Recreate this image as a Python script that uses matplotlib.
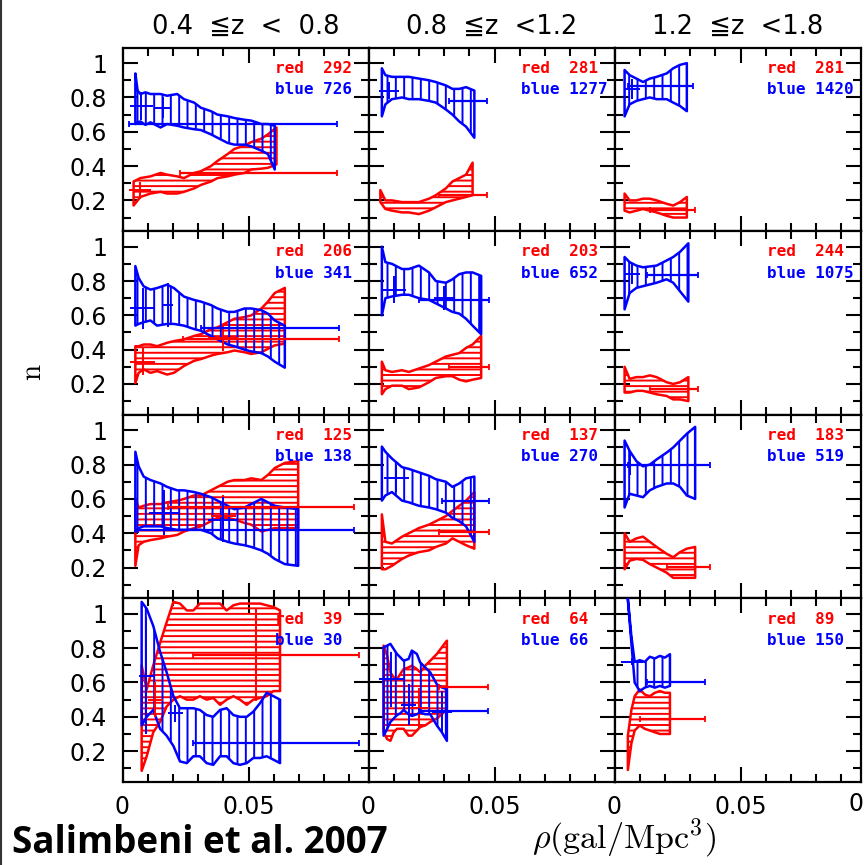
import matplotlib
matplotlib.use('Agg')
import matplotlib.pyplot as plt
from matplotlib.ticker import MultipleLocator, FixedLocator, FixedFormatter
from matplotlib.lines import Line2D

# ---------------- labels / counts ----------------
col_titles = ["0.4  \u2266z  <  0.8", "0.8  \u2266z  <1.2", "1.2  \u2266z  <1.8"]
red_counts = [[292, 281, 281], [206, 203, 244], [125, 137, 183], [39, 64, 89]]
blue_counts = [[726, 1277, 1420], [341, 652, 1075], [138, 270, 519], [30, 66, 150]]
x_ticks = [0.0, 0.05]
x_tick_labels = ["0", "0.05"]
y_ticks = [0.2, 0.4, 0.6, 0.8, 1.0]
y_tick_labels = ["0.2", "0.4", "0.6", "0.8", "1"]

# ---------------- row 0 ----------------
r0c0_blue_x = [0.0051, 0.0060, 0.0071, 0.0091, 0.0111, 0.0151, 0.0177, 0.0217, 0.0244, 0.0284,
               0.0311, 0.0351, 0.0377, 0.0417, 0.0444, 0.0484, 0.0511, 0.0551, 0.0577, 0.0604]
r0c0_blue_hi = [0.94, 0.84, 0.82, 0.83, 0.82, 0.82, 0.81, 0.82, 0.79, 0.77,
                0.74, 0.72, 0.70, 0.69, 0.68, 0.67, 0.665, 0.645, 0.645, 0.635]
r0c0_blue_lo = [0.645, 0.655, 0.66, 0.64, 0.655, 0.625, 0.645, 0.635, 0.625, 0.615,
                0.61, 0.585, 0.565, 0.535, 0.525, 0.525, 0.515, 0.49, 0.47, 0.38]
r0c0_red_x = [0.0044, 0.0071, 0.0111, 0.0151, 0.0177, 0.0217, 0.0244, 0.0284, 0.0311, 0.0351,
              0.0377, 0.0417, 0.0444, 0.0484, 0.0511, 0.0551, 0.0577, 0.0611]
r0c0_red_hi = [0.31, 0.33, 0.34, 0.36, 0.35, 0.34, 0.33, 0.36, 0.37, 0.40,
               0.43, 0.47, 0.50, 0.52, 0.54, 0.56, 0.585, 0.625]
r0c0_red_lo = [0.17, 0.22, 0.24, 0.25, 0.24, 0.24, 0.25, 0.27, 0.29, 0.31,
               0.33, 0.34, 0.35, 0.36, 0.38, 0.385, 0.39, 0.41]
r0c0_red_line = [0.023, 0.085, 0.36]
r0c0_blue_line = [0.0024, 0.085, 0.645]
r0c0_red_pts = [(0.007, 0.26, 0.0045, 0.05)]
r0c0_blue_pts = [(0.0075, 0.75, 0.0045, 0.08), (0.016, 0.74, 0.003, 0.06)]

r0c1_blue_x = [0.0053, 0.0067, 0.0093, 0.0133, 0.016, 0.020, 0.024, 0.0267, 0.0307, 0.0333,
               0.036, 0.0387, 0.042]
r0c1_blue_hi = [0.97, 0.93, 0.92, 0.92, 0.92, 0.91, 0.90, 0.89, 0.87, 0.85, 0.85, 0.86, 0.84]
r0c1_blue_lo = [0.69, 0.76, 0.79, 0.80, 0.79, 0.79, 0.78, 0.77, 0.73, 0.70, 0.66, 0.63, 0.565]
r0c1_red_x = [0.0047, 0.0067, 0.0093, 0.0133, 0.016, 0.020, 0.024, 0.0267, 0.0307, 0.0333,
              0.036, 0.0387, 0.0413]
r0c1_red_hi = [0.26, 0.20, 0.20, 0.19, 0.19, 0.19, 0.21, 0.23, 0.27, 0.31, 0.33, 0.35, 0.42]
r0c1_red_lo = [0.19, 0.15, 0.14, 0.13, 0.13, 0.12, 0.14, 0.16, 0.19, 0.20, 0.21, 0.22, 0.23]
r0c1_red_line = [0.028, 0.047, 0.23]
r0c1_blue_line = [0.032, 0.047, 0.78]
r0c1_red_pts = []
r0c1_blue_pts = [(0.008, 0.84, 0.004, 0.05)]

r0c2_blue_x = [0.004, 0.006, 0.0087, 0.0113, 0.014, 0.0167, 0.0207, 0.0233, 0.026, 0.0287]
r0c2_blue_hi = [0.96, 0.93, 0.91, 0.89, 0.91, 0.92, 0.94, 0.97, 0.99, 1.0]
r0c2_blue_lo = [0.69, 0.76, 0.78, 0.79, 0.80, 0.79, 0.79, 0.77, 0.75, 0.72]
r0c2_red_x = [0.004, 0.006, 0.0087, 0.0113, 0.014, 0.0167, 0.0207, 0.0233, 0.026, 0.0287]
r0c2_red_hi = [0.24, 0.20, 0.20, 0.21, 0.21, 0.20, 0.18, 0.17, 0.19, 0.22]
r0c2_red_lo = [0.14, 0.13, 0.14, 0.15, 0.14, 0.13, 0.11, 0.10, 0.10, 0.10]
r0c2_red_line = [0.014, 0.032, 0.145]
r0c2_blue_line = [0.0053, 0.031, 0.866]
r0c2_red_pts = []
r0c2_blue_pts = [(0.007, 0.85, 0.003, 0.06)]

# ---------------- row 1 ----------------
r1c0_blue_x = [0.0051, 0.0064, 0.0084, 0.0111, 0.0137, 0.0177, 0.0204, 0.0244, 0.0284, 0.0311,
               0.0351, 0.0377, 0.0417, 0.0444, 0.0484, 0.0511, 0.0551, 0.0577, 0.0604, 0.0644]
r1c0_blue_hi = [0.887, 0.818, 0.769, 0.75, 0.759, 0.779, 0.759, 0.709, 0.69, 0.68,
                0.66, 0.64, 0.62, 0.62, 0.64, 0.64, 0.63, 0.61, 0.57, 0.54]
r1c0_blue_lo = [0.54, 0.55, 0.56, 0.57, 0.54, 0.55, 0.55, 0.54, 0.52, 0.51,
                0.48, 0.46, 0.43, 0.42, 0.40, 0.39, 0.38, 0.36, 0.33, 0.295]
r1c0_red_x = [0.0051, 0.0064, 0.0084, 0.0111, 0.0137, 0.0177, 0.0204, 0.0244, 0.0284, 0.0311,
              0.0351, 0.0377, 0.0417, 0.0444, 0.0484, 0.0511, 0.0551, 0.0577, 0.0604, 0.0644]
r1c0_red_hi = [0.42, 0.42, 0.43, 0.43, 0.42, 0.44, 0.45, 0.46, 0.48, 0.49,
               0.52, 0.53, 0.56, 0.58, 0.59, 0.60, 0.64, 0.68, 0.73, 0.76]
r1c0_red_lo = [0.205, 0.265, 0.285, 0.265, 0.275, 0.255, 0.265, 0.305, 0.335, 0.345,
               0.365, 0.375, 0.385, 0.395, 0.385, 0.375, 0.385, 0.405, 0.425, 0.435]
r1c0_red_line = [0.024, 0.086, 0.462]
r1c0_blue_line = [0.031, 0.086, 0.528]
r1c0_red_pts = [(0.008, 0.33, 0.005, 0.08), (0.040, 0.47, 0.006, 0.08)]
r1c0_blue_pts = [(0.008, 0.64, 0.005, 0.12), (0.018, 0.66, 0.002, 0.13)]

r1c1_blue_x = [0.0053, 0.0067, 0.0093, 0.0133, 0.016, 0.020, 0.024, 0.0267, 0.0307, 0.0333,
               0.036, 0.0387, 0.0413, 0.0447]
r1c1_blue_hi = [1.0, 0.91, 0.90, 0.87, 0.87, 0.89, 0.85, 0.80, 0.79, 0.81, 0.84, 0.85, 0.85, 0.83]
r1c1_blue_lo = [0.60, 0.70, 0.71, 0.72, 0.72, 0.70, 0.69, 0.67, 0.64, 0.62, 0.61, 0.58, 0.54, 0.49]
r1c1_red_x = [0.0053, 0.0067, 0.0093, 0.0133, 0.016, 0.020, 0.024, 0.0267, 0.0307, 0.0333,
              0.036, 0.0387, 0.0413, 0.0447]
r1c1_red_hi = [0.33, 0.28, 0.27, 0.28, 0.27, 0.29, 0.31, 0.33, 0.36, 0.37, 0.38, 0.41, 0.43, 0.48]
r1c1_red_lo = [0.14, 0.17, 0.19, 0.19, 0.17, 0.18, 0.21, 0.235, 0.245, 0.245, 0.225, 0.215, 0.225, 0.235]
r1c1_red_line = [0.032, 0.048, 0.30]
r1c1_blue_line = [0.020, 0.048, 0.69]
r1c1_red_pts = []
r1c1_blue_pts = [(0.010, 0.75, 0.005, 0.08), (0.030, 0.70, 0.004, 0.07)]

r1c2_blue_x = [0.004, 0.006, 0.0087, 0.0113, 0.014, 0.0167, 0.0207, 0.0233, 0.026, 0.0293]
r1c2_blue_hi = [0.94, 0.91, 0.89, 0.88, 0.885, 0.89, 0.92, 0.94, 0.97, 1.02]
r1c2_blue_lo = [0.635, 0.73, 0.76, 0.77, 0.78, 0.79, 0.81, 0.79, 0.74, 0.68]
r1c2_red_x = [0.004, 0.006, 0.0087, 0.0113, 0.014, 0.0167, 0.0207, 0.0233, 0.026, 0.0293]
r1c2_red_hi = [0.30, 0.23, 0.24, 0.24, 0.25, 0.24, 0.21, 0.20, 0.21, 0.24]
r1c2_red_lo = [0.15, 0.15, 0.16, 0.16, 0.15, 0.14, 0.13, 0.11, 0.11, 0.10]
r1c2_red_line = [0.014, 0.033, 0.17]
r1c2_blue_line = [0.013, 0.033, 0.838]
r1c2_red_pts = []
r1c2_blue_pts = [(0.007, 0.84, 0.003, 0.06)]

# ---------------- row 2 ----------------
r2c0_blue_x = [0.0051, 0.0064, 0.0084, 0.0111, 0.0151, 0.0177, 0.0217, 0.0244, 0.0284, 0.0311,
               0.0351, 0.0377, 0.0417, 0.0444, 0.0484, 0.0511, 0.0551, 0.0577, 0.0604, 0.0644, 0.0697]
r2c0_blue_hi = [0.875, 0.79, 0.73, 0.71, 0.69, 0.67, 0.65, 0.65, 0.64, 0.63,
                0.61, 0.59, 0.56, 0.54, 0.55, 0.57, 0.60, 0.58, 0.56, 0.55, 0.54]
r2c0_blue_lo = [0.41, 0.43, 0.44, 0.44, 0.44, 0.43, 0.42, 0.42, 0.42, 0.42,
                0.40, 0.37, 0.35, 0.34, 0.33, 0.32, 0.30, 0.28, 0.25, 0.22, 0.21]
r2c0_red_x = [0.0051, 0.0064, 0.0084, 0.0111, 0.0151, 0.0177, 0.0217, 0.0244, 0.0284, 0.0311,
              0.0351, 0.0377, 0.0417, 0.0444, 0.0484, 0.0511, 0.0551, 0.0577, 0.0604, 0.0644, 0.0697]
r2c0_red_hi = [0.60, 0.55, 0.56, 0.57, 0.57, 0.58, 0.59, 0.60, 0.62, 0.62,
               0.65, 0.67, 0.70, 0.71, 0.71, 0.72, 0.71, 0.74, 0.78, 0.81, 0.82]
r2c0_red_lo = [0.21, 0.33, 0.35, 0.36, 0.37, 0.38, 0.39, 0.41, 0.43, 0.44,
               0.47, 0.49, 0.49, 0.48, 0.46, 0.45, 0.41, 0.42, 0.43, 0.43, 0.43]
r2c0_red_line = [0.018, 0.092, 0.553]
r2c0_blue_line = [0.006, 0.092, 0.42]
r2c0_red_pts = [(0.040, 0.50, 0.005, 0.12)]
r2c0_blue_pts = [(0.0165, 0.52, 0.006, 0.13), (0.040, 0.48, 0.006, 0.13)]

r2c1_blue_x = [0.0053, 0.0067, 0.0093, 0.0133, 0.016, 0.020, 0.024, 0.0267, 0.0307, 0.0333,
               0.036, 0.0387, 0.042]
r2c1_blue_hi = [0.905, 0.875, 0.835, 0.785, 0.775, 0.755, 0.735, 0.715, 0.70, 0.67, 0.69, 0.72, 0.73]
r2c1_blue_lo = [0.59, 0.62, 0.64, 0.59, 0.58, 0.56, 0.55, 0.54, 0.52, 0.49, 0.47, 0.44, 0.35]
r2c1_red_x = [0.0053, 0.0067, 0.0093, 0.0133, 0.016, 0.020, 0.024, 0.0267, 0.0307, 0.0333,
              0.036, 0.0387, 0.042]
r2c1_red_hi = [0.51, 0.35, 0.34, 0.38, 0.40, 0.43, 0.45, 0.47, 0.50, 0.53, 0.56, 0.59, 0.64]
r2c1_red_lo = [0.19, 0.19, 0.21, 0.25, 0.27, 0.29, 0.30, 0.32, 0.34, 0.37, 0.35, 0.33, 0.31]
r2c1_red_line = [0.028, 0.048, 0.41]
r2c1_blue_line = [0.029, 0.048, 0.59]
r2c1_red_pts = []
r2c1_blue_pts = [(0.011, 0.72, 0.005, 0.08)]

r2c2_blue_x = [0.004, 0.006, 0.0087, 0.0113, 0.014, 0.0167, 0.0207, 0.0233, 0.026, 0.0287, 0.032]
r2c2_blue_hi = [0.94, 0.88, 0.82, 0.79, 0.80, 0.83, 0.87, 0.90, 0.94, 0.98, 1.02]
r2c2_blue_lo = [0.55, 0.63, 0.62, 0.61, 0.65, 0.67, 0.69, 0.69, 0.67, 0.62, 0.60]
r2c2_red_x = [0.004, 0.006, 0.0087, 0.0113, 0.014, 0.0167, 0.0207, 0.0233, 0.026, 0.0287, 0.032]
r2c2_red_hi = [0.40, 0.35, 0.37, 0.38, 0.35, 0.32, 0.28, 0.26, 0.29, 0.31, 0.32]
r2c2_red_lo = [0.19, 0.24, 0.25, 0.245, 0.22, 0.20, 0.17, 0.14, 0.14, 0.14, 0.14]
r2c2_red_line = [0.021, 0.038, 0.205]
r2c2_blue_line = [0.0053, 0.038, 0.80]
r2c2_red_pts = []
r2c2_blue_pts = [(0.006, 0.80, 0.003, 0.06)]

# ---------------- row 3 ----------------
r3c0_blue_x = [0.0076, 0.0096, 0.0122, 0.0149, 0.0175, 0.0202, 0.0228, 0.0255, 0.0281, 0.0307,
               0.0334, 0.036, 0.0387, 0.0413, 0.044, 0.0466, 0.0493, 0.0519, 0.0546, 0.0572,
               0.0599, 0.0625]
r3c0_blue_hi = [1.07, 1.03, 0.93, 0.78, 0.66, 0.52, 0.45, 0.45, 0.45, 0.44,
                0.41, 0.40, 0.44, 0.45, 0.41, 0.40, 0.40, 0.43, 0.48, 0.54, 0.52, 0.50]
r3c0_blue_lo = [0.35, 0.40, 0.44, 0.33, 0.29, 0.23, 0.14, 0.13, 0.17, 0.17,
                0.13, 0.12, 0.17, 0.17, 0.13, 0.12, 0.13, 0.16, 0.16, 0.17, 0.15, 0.13]
r3c0_red_x = [0.0076, 0.0096, 0.0122, 0.0149, 0.0175, 0.0202, 0.0228, 0.0255, 0.0281, 0.0307,
              0.0334, 0.036, 0.0387, 0.0413, 0.044, 0.0466, 0.0493, 0.0519, 0.0546, 0.0572,
              0.0599, 0.0625]
r3c0_red_hi = [0.70, 0.56, 0.70, 0.83, 0.95, 1.07, 1.06, 1.02, 1.02, 1.06,
               1.06, 1.06, 1.06, 1.02, 1.05, 1.06, 1.06, 1.06, 1.06, 1.05, 1.04, 1.02]
r3c0_red_lo = [0.085, 0.17, 0.31, 0.37, 0.46, 0.50, 0.52, 0.50, 0.50, 0.52,
               0.50, 0.51, 0.47, 0.50, 0.52, 0.50, 0.47, 0.50, 0.51, 0.52, 0.55, 0.55]
r3c0_red_line = [0.028, 0.094, 0.76]
r3c0_blue_line = [0.028, 0.094, 0.245]
r3c0_red_pts = [(0.053, 0.76, 0.0, 0.27), (0.013, 0.50, 0.003, 0.10)]
r3c0_blue_pts = [(0.0095, 0.64, 0.003, 0.34), (0.021, 0.42, 0.003, 0.05)]

r3c1_blue_x = [0.006, 0.0074, 0.0087, 0.010, 0.0113, 0.0126, 0.0139, 0.0159, 0.0172, 0.0192,
               0.0205, 0.0225, 0.0245, 0.0271, 0.0291, 0.0311]
r3c1_blue_hi = [0.805, 0.815, 0.825, 0.795, 0.766, 0.747, 0.727, 0.737, 0.786, 0.766,
                0.717, 0.688, 0.659, 0.59, 0.571, 0.561]
r3c1_blue_lo = [0.29, 0.33, 0.37, 0.39, 0.41, 0.42, 0.44, 0.415, 0.405, 0.415,
                0.425, 0.415, 0.415, 0.35, 0.31, 0.26]
r3c1_red_x = [0.006, 0.0074, 0.0087, 0.010, 0.0113, 0.0126, 0.0139, 0.0159, 0.0172, 0.0192,
              0.0205, 0.0225, 0.0245, 0.0271, 0.0291, 0.0311]
r3c1_red_hi = [0.815, 0.756, 0.659, 0.63, 0.62, 0.649, 0.678, 0.688, 0.698, 0.678,
               0.659, 0.698, 0.727, 0.766, 0.805, 0.844]
r3c1_red_lo = [0.31, 0.27, 0.26, 0.31, 0.33, 0.33, 0.33, 0.29, 0.29, 0.32,
               0.34, 0.35, 0.37, 0.39, 0.415, 0.445]
r3c1_red_line = [0.028, 0.0475, 0.571]
r3c1_blue_line = [0.020, 0.0475, 0.435]
r3c1_red_pts = [(0.020, 0.45, 0.004, 0.12)]
r3c1_blue_pts = [(0.009, 0.62, 0.005, 0.16), (0.016, 0.47, 0.003, 0.12), (0.029, 0.43, 0.004, 0.12)]

r3c2_blue_x = [0.0053, 0.0067, 0.008, 0.010, 0.012, 0.014, 0.016, 0.018, 0.020, 0.022]
r3c2_blue_hi = [1.09, 0.87, 0.72, 0.73, 0.72, 0.75, 0.74, 0.755, 0.745, 0.765]
r3c2_blue_lo = [1.08, 0.83, 0.60, 0.55, 0.57, 0.58, 0.57, 0.58, 0.57, 0.58]
r3c2_red_x = [0.0053, 0.0067, 0.008, 0.010, 0.012, 0.014, 0.016, 0.018, 0.020, 0.022]
r3c2_red_hi = [0.29, 0.44, 0.52, 0.56, 0.53, 0.52, 0.54, 0.55, 0.54, 0.54]
r3c2_red_lo = [0.09, 0.245, 0.32, 0.35, 0.33, 0.32, 0.31, 0.30, 0.30, 0.30]
r3c2_red_line = [0.010, 0.036, 0.39]
r3c2_blue_line = [0.0127, 0.036, 0.60]
r3c2_red_pts = []
r3c2_blue_pts = [(0.007, 0.72, 0.0045, 0.02)]

# ---------------- assemble ----------------
g = globals()
panels = {}
for r in range(4):
    for c in range(3):
        k = f"r{r}c{c}_"
        panels[(r, c)] = {name: g[k + name] for name in
                          ["red_x", "red_lo", "red_hi", "blue_x", "blue_lo", "blue_hi",
                           "red_line", "blue_line", "red_pts", "blue_pts"]}

RED = '#ff0000'
BLUE = '#0000ff'
plt.rcParams['hatch.linewidth'] = 1.4
plt.rcParams['mathtext.fontset'] = 'cm'
plt.rcParams['font.family'] = ['DejaVu Sans']

fig = plt.figure(figsize=(8.64, 8.65), dpi=100)
W, H = 864.0, 865.0
gs = fig.add_gridspec(4, 3, left=122.5 / W, right=860.5 / W, top=1 - 47.7 / H, bottom=1 - 782 / H,
                      wspace=0, hspace=0)

for r in range(4):
    for c in range(3):
        ax = fig.add_subplot(gs[r, c])
        p = panels[(r, c)]
        ax.fill_between(p["red_x"], p["red_lo"], p["red_hi"], facecolor='none', edgecolor=RED,
                        hatch='---', lw=1.8, zorder=2)
        ax.fill_between(p["blue_x"], p["blue_lo"], p["blue_hi"], facecolor='none', edgecolor=BLUE,
                        hatch='||', lw=1.8, zorder=3)
        for key, col in (("red", RED), ("blue", BLUE)):
            x0, x1, yv = p[key + "_line"]
            ax.errorbar([(x0 + x1) / 2], [yv], xerr=[(x1 - x0) / 2], fmt='none', ecolor=col,
                        elinewidth=1.6, capsize=2.5, capthick=1.3, zorder=4)
            for (px, py, pxe, pye) in p[key + "_pts"]:
                ax.errorbar([px], [py], xerr=[pxe], yerr=[pye], fmt='none', ecolor=col,
                            elinewidth=1.4, capsize=0, zorder=4)
        ax.text(0.0605, 0.97, f"red  {red_counts[r][c]}", color=RED, fontsize=11.5,
                family='DejaVu Sans Mono', weight='bold', ha='left', va='center', zorder=5)
        ax.text(0.0605, 0.845, f"blue {blue_counts[r][c]}", color=BLUE, fontsize=11.5,
                family='DejaVu Sans Mono', weight='bold', ha='left', va='center', zorder=5)

        ax.set_xlim(0, 0.0976)
        ax.set_ylim(0.02, 1.09)
        ax.xaxis.set_major_locator(FixedLocator(x_ticks))
        ax.xaxis.set_major_formatter(FixedFormatter(x_tick_labels))
        ax.xaxis.set_minor_locator(MultipleLocator(0.01))
        ax.yaxis.set_major_locator(FixedLocator(y_ticks))
        ax.yaxis.set_major_formatter(FixedFormatter(y_tick_labels))
        ax.yaxis.set_minor_locator(MultipleLocator(0.1))
        ax.tick_params(which='both', direction='in', top=True, right=True, width=1.5,
                       labelsize=17, labelleft=(c == 0), labelbottom=(r == 3))
        ax.tick_params(which='major', length=11)
        ax.tick_params(which='minor', length=5.5)
        ax.tick_params(axis='y', pad=11)
        ax.tick_params(axis='x', pad=9)
        for s in ax.spines.values():
            s.set_linewidth(1.6)
        if r == 0:
            ax.set_title(col_titles[c], fontsize=18.5, pad=10)

# partially visible tick label at the far right edge of the reference
fig.text(863 / W, 1 - 804 / H, "0", fontsize=17, ha='right', va='center')
fig.text(33 / W, 1 - 372 / H, r'$\mathrm{n}$', fontsize=21, rotation=90, ha='center', va='center')
fig.text(624 / W, 1 - 838 / H, r'$\rho(\mathrm{gal/Mpc^3})$', fontsize=24.5, ha='center', va='center')
fig.text(12 / W, 1 - 853 / H, "Salimbeni et al. 2007", fontsize=26.5, fontweight='bold',
         family=['Open Sans', 'DejaVu Sans'], ha='left', va='baseline')
fig.add_artist(Line2D([0.0012, 0.0012], [0, 1], transform=fig.transFigure, color='#333333', lw=1.5))

fig.savefig('out.png', dpi=100)
